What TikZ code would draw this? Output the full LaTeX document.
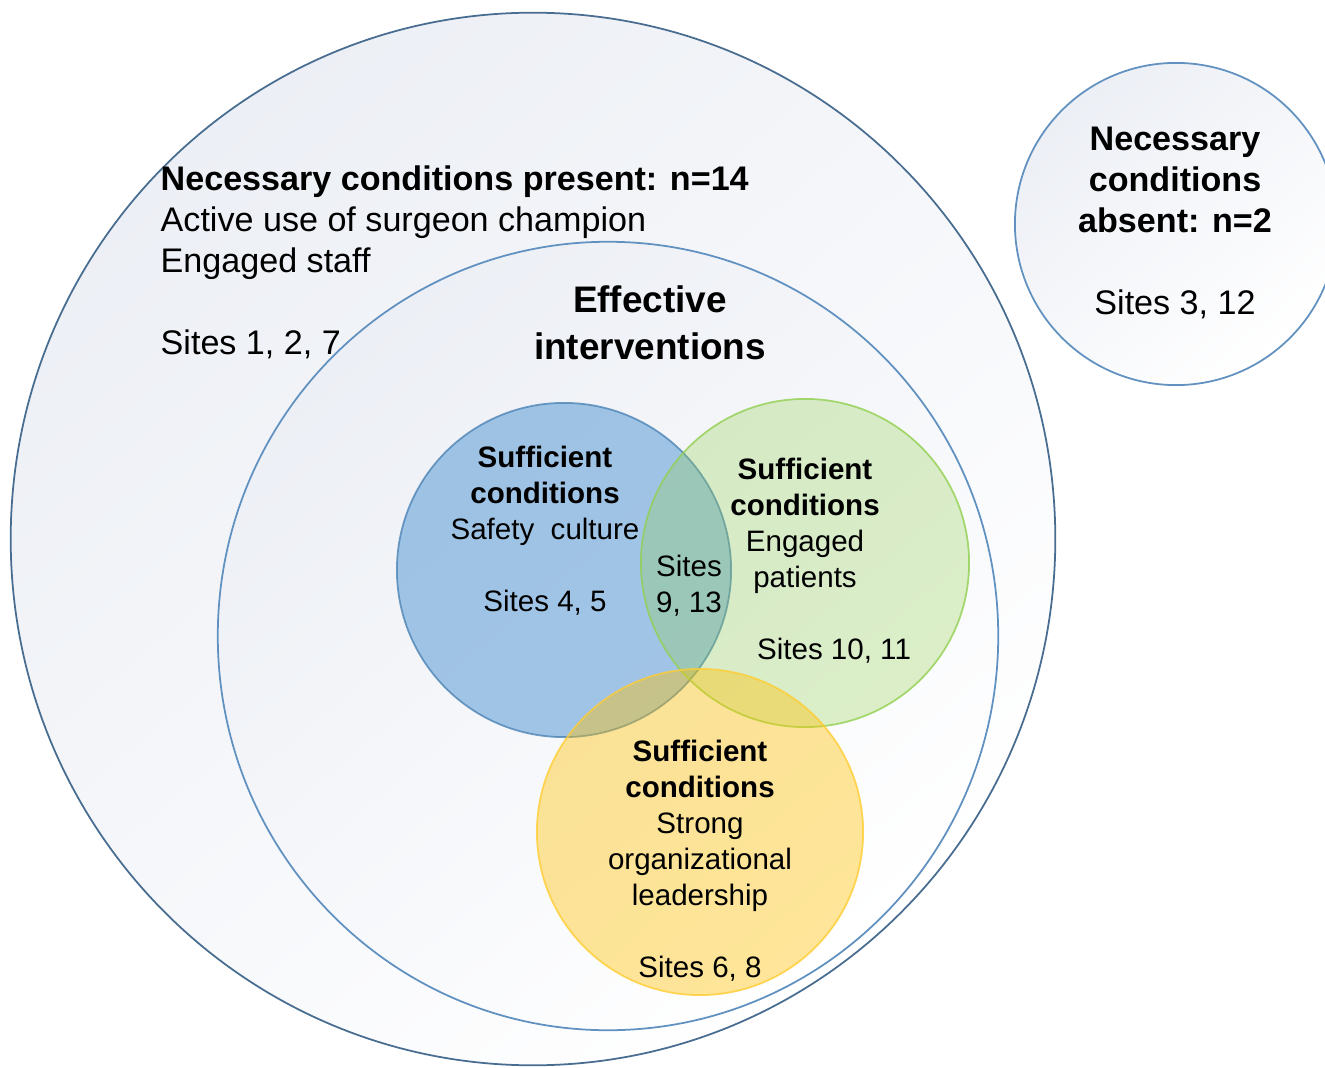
\documentclass[tikz,border=0pt]{standalone}
\usepackage{fontspec}
\setmainfont{Liberation Sans}
\usepackage{tikz}
\definecolor{ringline}{RGB}{96,145,192}
\definecolor{ringshade}{RGB}{236,239,245}
\definecolor{cultureblue}{RGB}{91,155,213}
\definecolor{patientgreen}{RGB}{146,208,80}
\definecolor{leaderyellow}{RGB}{255,192,0}

\begin{document}
\begin{tikzpicture}[x=0.01cm, y=-0.01cm]
    \clip (0,0) rectangle (1325,1067);

    \tikzset{ ring/.style   ={draw=ringline, line width=0.5pt, shading=axis, top color=ringshade, bottom color=white, shading angle=40} }
    \tikzset{ sufc/.style   ={line width=0.5pt, fill opacity=#1, draw opacity=0.8} }
    \tikzset{ bigtxt/.style ={inner sep=0pt, font=\fontsize{9.7}{11.65}\selectfont} }
    \tikzset{ suftxt/.style ={inner sep=0pt, align=center, font=\fontsize{8.4}{10.25}\selectfont} }

    % outer sets
    \path[ring, draw=ringline!75!black] (533,539) ellipse [x radius=5.22cm, y radius=5.26cm];
    \path[ring] (608,636) ellipse [x radius=3.90cm, y radius=3.94cm];
    \path[ring] (1176,224) circle [radius=1.61cm];

    % sufficient conditions
    \path[sufc=0.55, fill=cultureblue, draw=cultureblue!85!black] (564,570) circle [radius=1.67cm];
    \path[sufc=0.30, fill=patientgreen, draw=patientgreen] (805,563) circle [radius=1.64cm];
    \path[sufc=0.40, fill=leaderyellow, draw=leaderyellow!80!white] (700,832) circle [radius=1.63cm];

    \node[bigtxt, align=left, anchor=west] (present) at (160,262)
        {\textbf{Necessary conditions present: n=14}\\Active use of surgeon champion\\Engaged staff\\\mbox{}\\Sites 1, 2, 7};
    \node[inner sep=0pt, align=center, font=\bfseries\fontsize{10.5}{13.4}\selectfont] (effective) at (650,323)
        {Effective\\interventions};
    \node[bigtxt, align=center] (absent) at (1175,223)
        {\textbf{Necessary}\\\textbf{conditions}\\\textbf{absent: n=2}\\\mbox{}\\Sites 3, 12};

    \node[suftxt] (culture)  at (545,531) {\textbf{Sufficient}\\\textbf{conditions}\\Safety\ \ culture\\\mbox{}\\Sites 4, 5};
    \node[suftxt] (both)     at (689,586) {Sites\\9, 13};
    \node[suftxt] (patients) at (805,526) {\textbf{Sufficient}\\\textbf{conditions}\\Engaged\\patients};
    \node[suftxt] (sites1011) at (834,651) {Sites 10, 11};
    \node[suftxt] (leader)   at (700,861) {\textbf{Sufficient}\\\textbf{conditions}\\Strong\\organizational\\leadership\\\mbox{}\\Sites 6, 8};

\end{tikzpicture}
\end{document}
